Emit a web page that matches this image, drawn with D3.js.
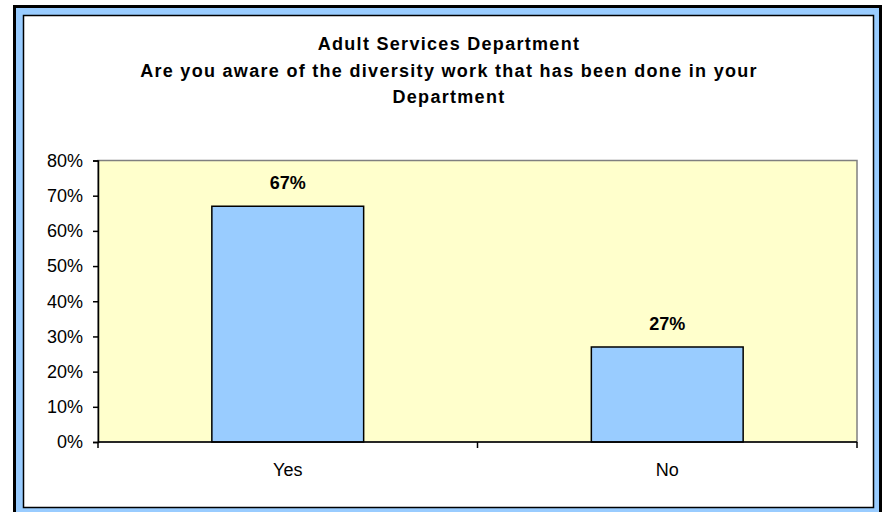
<!DOCTYPE html>
<html>
<head>
<meta charset="utf-8">
<script src="https://cdn.jsdelivr.net/npm/d3@7"></script>
<style>
  body { margin: 0; background: #fff; }
  text { font-family: "Liberation Sans", Arial, sans-serif; fill: #000; }
</style>
</head>
<body>
<div id="chart"></div>
<script>
const titleLines = [
    'Adult Services Department',
    'Are you aware of the diversity work that has been done in your',
    'Department'
];
const categories = ['Yes', 'No'];
const values = [0.67, 0.27];
const yTicks = [0, 0.1, 0.2, 0.3, 0.4, 0.5, 0.6, 0.7, 0.8];

const W = 888, H = 512;
const plot = { left: 98, right: 857, top: 160.5, bottom: 442 };

const svg = d3.select('#chart').append('svg')
    .attr('width', W)
    .attr('height', H);

// Frame: black outer, blue band, thin black inner line
svg.append('rect').attr('x', 13).attr('y', 5).attr('width', 869).attr('height', 520).attr('fill', '#000');
svg.append('rect').attr('x', 16).attr('y', 8).attr('width', 863).attr('height', 514).attr('fill', '#99ccff');
svg.append('rect').attr('x', 23.5).attr('y', 15.5).attr('width', 850).attr('height', 492)
    .attr('fill', '#fff').attr('stroke', '#000').attr('stroke-width', 1.5);

// Title
svg.append('g').selectAll('text')
    .data(titleLines)
    .join('text')
    .attr('x', 449)
    .attr('y', (d, i) => 50 + i * 26.5)
    .attr('text-anchor', 'middle')
    .style('font-size', '18px')
    .style('font-weight', 'bold')
    .style('letter-spacing', '1.3px')
    .text(d => d);

// Scales
const x = d3.scaleBand()
    .domain(categories)
    .range([plot.left, plot.right])
    .paddingInner(0.6)
    .paddingOuter(0.3);

const xEdge = d3.scaleBand()
    .domain(categories)
    .range([plot.left, plot.right]);

const y = d3.scaleLinear()
    .domain([0, 0.8])
    .range([plot.bottom, plot.top]);

// Plot area background + grey border
svg.append('rect')
    .attr('x', plot.left).attr('y', plot.top)
    .attr('width', plot.right - plot.left).attr('height', plot.bottom - plot.top)
    .attr('fill', '#ffffcc')
    .attr('stroke', '#808080')
    .attr('stroke-width', 1.5);

// Y axis
const yAxis = svg.append('g')
    .attr('transform', `translate(${plot.left},0)`)
    .call(d3.axisLeft(y).tickValues(yTicks).tickFormat(d3.format('.0%')).tickSize(5).tickPadding(10));
yAxis.select('.domain').attr('stroke', '#000').attr('stroke-width', 1.5);
yAxis.selectAll('.tick line').attr('stroke', '#000').attr('stroke-width', 1.5);
yAxis.selectAll('.tick text').style('font-size', '18px').attr('font-family', null);

// Bars
svg.append('g').selectAll('rect')
    .data(values)
    .join('rect')
    .attr('x', (d, i) => x(categories[i]))
    .attr('y', d => y(d))
    .attr('width', x.bandwidth())
    .attr('height', d => y(0) - y(d))
    .attr('fill', '#99ccff')
    .attr('stroke', '#000')
    .attr('stroke-width', 1.5);

// Data labels
svg.append('g').selectAll('text')
    .data(values)
    .join('text')
    .attr('x', (d, i) => x(categories[i]) + x.bandwidth() / 2)
    .attr('y', d => y(d) - 17)
    .attr('text-anchor', 'middle')
    .style('font-size', '18px')
    .style('font-weight', 'bold')
    .text(d => d3.format('.0%')(d));

// X axis: ticks at category boundaries
const xAxisG = svg.append('g');
xAxisG.append('line')
    .attr('x1', plot.left).attr('x2', plot.right)
    .attr('y1', plot.bottom).attr('y2', plot.bottom)
    .attr('stroke', '#000').attr('stroke-width', 1.5);
const edges = categories.map(c => xEdge(c)).concat([plot.right]);
xAxisG.selectAll('.xtick')
    .data(edges)
    .join('line')
    .attr('class', 'xtick')
    .attr('x1', d => d).attr('x2', d => d)
    .attr('y1', plot.bottom).attr('y2', plot.bottom + 6)
    .attr('stroke', '#000').attr('stroke-width', 1.5);
xAxisG.selectAll('text')
    .data(categories)
    .join('text')
    .attr('x', d => xEdge(d) + xEdge.bandwidth() / 2)
    .attr('y', 476)
    .attr('text-anchor', 'middle')
    .style('font-size', '18px')
    .text(d => d);
</script>
</body>
</html>
